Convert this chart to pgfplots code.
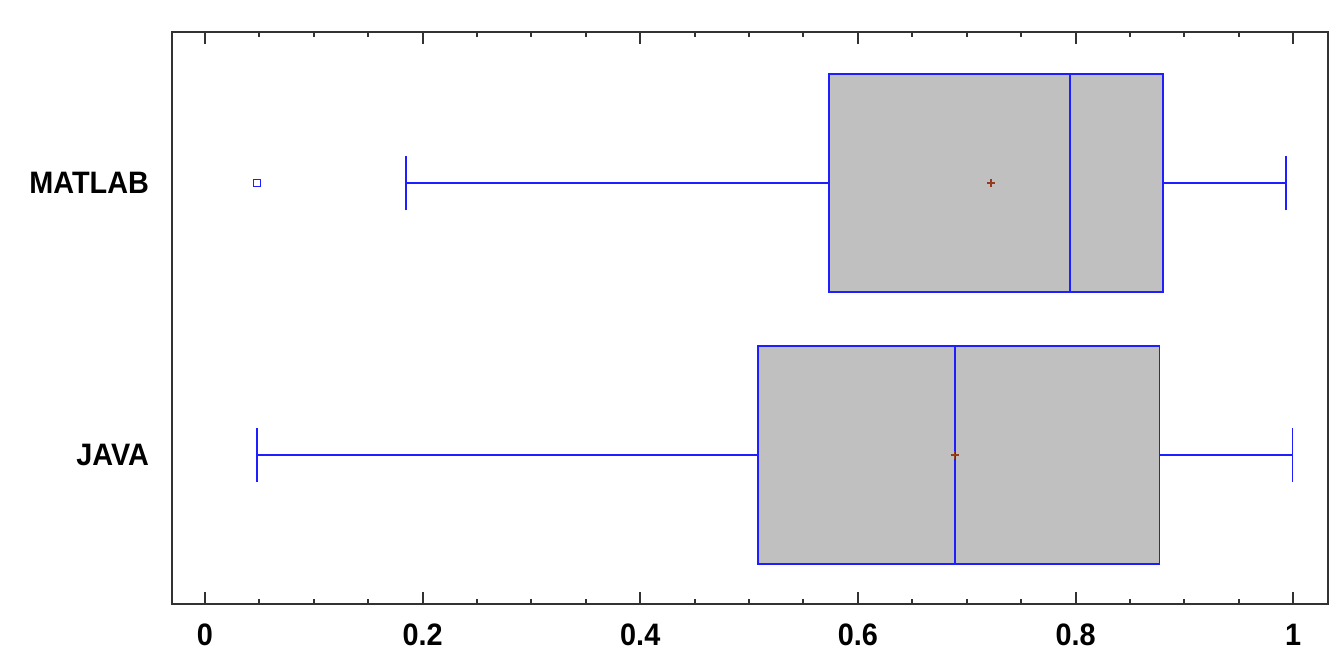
\documentclass[border=0pt]{standalone}
\usepackage{fontspec}
\setmainfont{Liberation Sans}
\newfontfamily\narrowfont[FakeStretch=0.93]{Liberation Sans}
\usepackage{pgfplots}
\pgfplotsset{compat=1.18}
\usepgfplotslibrary{statistics}
\definecolor{boxgray}{RGB}{192,192,192}
\definecolor{boxblue}{RGB}{30,30,255}
\definecolor{axisgray}{RGB}{50,50,50}
\definecolor{meanbrown}{RGB}{150,60,30}
\begin{document}
\begin{tikzpicture}
\begin{axis}[
  at={(0pt,0pt)}, anchor=south west, scale only axis,
  width=578pt, height=286pt,
  xmin=-0.0303, xmax=1.032, ymin=0.452, ymax=2.555,
  xtick={0,0.2,0.4,0.6,0.8,1},
  minor x tick num=3,
  ytick={1,2}, yticklabels={JAVA,MATLAB},
  ytick style={draw=none},
  xtick pos=both, ytick pos=left,
  tick align=inside,
  major tick length=6pt, minor tick length=2.5pt,
  axis line style={axisgray, line width=1pt},
  every tick/.style={axisgray, line width=1pt},
  /pgf/number format/assume math mode=true,
  tick label style={font=\narrowfont\fontsize{15.5}{18}\selectfont\bfseries, text=black},
  xticklabel style={yshift=-6.5pt},
  yticklabel style={xshift=-8pt},
  boxplot/draw direction=x,
  clip=false,
]
% MATLAB
\addplot+[boxplot prepared={
    draw position=2, lower whisker=0.1847, lower quartile=0.5735,
    median=0.795, upper quartile=0.8805, upper whisker=0.9936,
    box extend=0.8, whisker extend=0.2},
  draw=boxblue, fill=boxgray, line width=0.8pt, solid, mark=none]
  coordinates {};
% JAVA
\addplot+[boxplot prepared={
    draw position=1, lower whisker=0.0478, lower quartile=0.508,
    median=0.689, upper quartile=0.877, upper whisker=0.9995,
    box extend=0.8, whisker extend=0.2},
  draw=boxblue, fill=boxgray, line width=0.8pt, solid, mark=none]
  coordinates {};
% outlier
\addplot[only marks, mark=square, mark size=1.8pt, boxblue, line width=0.8pt]
  coordinates {(0.0478,2)};
% means
\addplot[only marks, mark=+, mark size=2pt, meanbrown, line width=0.6pt]
  coordinates {(0.7224,2) (0.689,1)};
\end{axis}
\pgfresetboundingbox
\path (-86pt,-29pt) rectangle (584pt,302pt);
\end{tikzpicture}
\end{document}
